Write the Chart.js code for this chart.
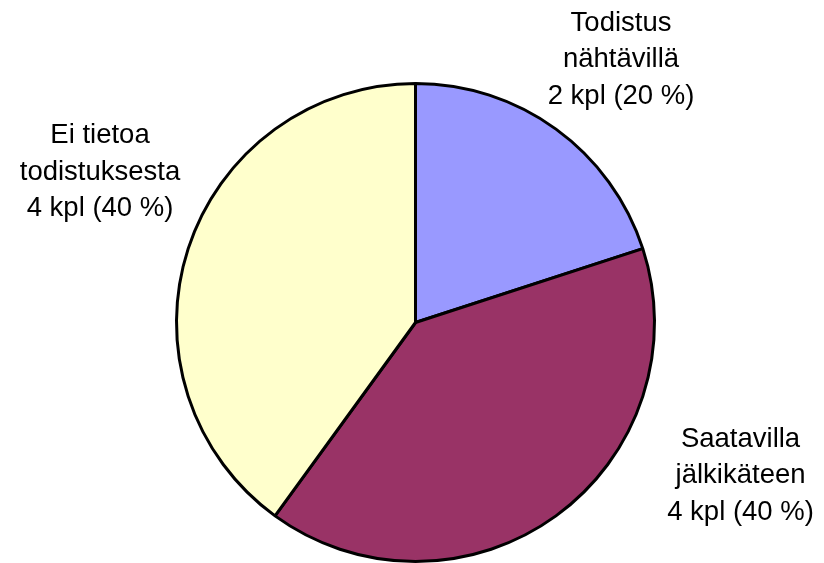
<!DOCTYPE html>
<html>
<head>
<meta charset="utf-8">
<script src="https://cdn.jsdelivr.net/npm/chart.js@4/dist/chart.umd.min.js"></script>
<style>
  html, body { margin: 0; padding: 0; background: #fff; }
  #wrap { width: 824px; height: 563px; }
</style>
</head>
<body>
<div id="wrap"><canvas id="chart"></canvas></div>
<script>
const labels = ['Todistus nähtävillä', 'Saatavilla jälkikäteen', 'Ei tietoa todistuksesta']
const labelLines = [
  ['Todistus', 'nähtävillä'],
  ['Saatavilla', 'jälkikäteen'],
  ['Ei tietoa', 'todistuksesta']
]
const counts = [2, 4, 4]
const colors = ['#9999FF', '#993366', '#FFFFCC']

// label anchor, in units of the pie radius from its centre
const labelOffsets = [[0.86, -1.10], [1.36, 0.64], [-1.32, -0.63]]

const total = counts.reduce((a, b) => a + b, 0)

const pieLabels = {
  id: 'pieLabels',
  afterDraw(chart) {
    const ctx = chart.ctx
    const arcs = chart.getDatasetMeta(0).data
    ctx.save()
    ctx.font = '27.5px "Liberation Sans", Arial, sans-serif'
    ctx.fillStyle = '#000'
    ctx.textAlign = 'center'
    ctx.textBaseline = 'middle'
    arcs.forEach((arc, i) => {
      const r = arc.outerRadius
      const cx = arc.x + labelOffsets[i][0] * r
      const cy = arc.y + labelOffsets[i][1] * r
      const pct = Math.round(counts[i] / total * 100)
      const lines = labelLines[i].concat([counts[i] + ' kpl (' + pct + ' %)'])
      const lh = 36.5
      lines.forEach((t, j) => {
        ctx.fillText(t, cx, cy + (j - (lines.length - 1) / 2) * lh)
      })
    })
    ctx.restore()
  }
}

new Chart(document.getElementById('chart'), {
  type: 'pie',
  data: {
    labels,
    datasets: [{
      data: counts,
      backgroundColor: colors,
      borderColor: '#000',
      borderWidth: 3,
      borderAlign: 'center'
    }]
  },
  options: {
    responsive: true,
    maintainAspectRatio: false,
    animation: false,
    layout: { padding: { top: 82, bottom: 0, left: 175, right: 168 } },
    plugins: {
      legend: { display: false },
      tooltip: { enabled: false }
    }
  },
  plugins: [pieLabels]
})
</script>
</body>
</html>
